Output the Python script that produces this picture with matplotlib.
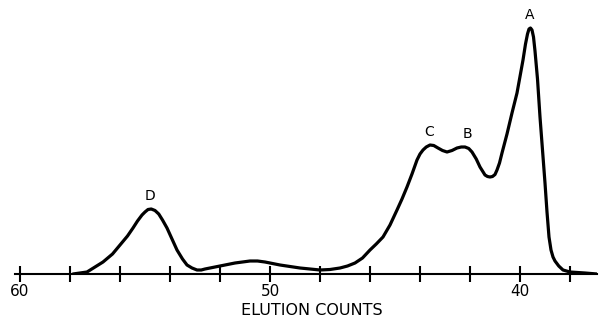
import numpy as np
import matplotlib
matplotlib.use('Agg')
import matplotlib.pyplot as plt

# elution profile (detector response in arbitrary units)
elution = [57.88, 57.32, 56.68, 56.3, 56.0, 55.7, 55.48, 55.3, 55.12, 55.0,
           54.88, 54.75, 54.6, 54.45, 54.3, 54.12, 53.92, 53.72, 53.5, 53.32,
           53.12, 52.92, 52.75, 52.6, 52.3, 52.0, 51.4, 50.8, 50.5, 50.2,
           49.6, 48.8, 48.0, 47.6, 47.2, 46.9, 46.6, 46.3, 46.0, 45.75,
           45.48, 45.2, 44.92, 44.72, 44.52, 44.32, 44.12, 44.0, 43.88, 43.75,
           43.6, 43.45, 43.28, 43.1, 42.92, 42.72, 42.52, 42.35, 42.2, 42.05,
           41.92, 41.75, 41.6, 41.4, 41.3, 41.2, 41.1, 41.0, 40.92, 40.82,
           40.72, 40.52, 40.32, 40.12, 39.88, 39.78, 39.7, 39.64, 39.58, 39.52,
           39.46, 39.4, 39.3, 39.2, 39.1, 39.0, 38.92, 38.84, 38.76, 38.68,
           38.6, 38.45, 38.28, 38.0, 37.4, 36.92]
response = [0, 2, 12, 20, 29, 38, 46, 53, 59, 62,
            64.5, 65, 63.5, 60, 54, 46, 35, 24, 15, 9,
            6, 4, 4, 5, 6.5, 8, 11, 13, 13, 12,
            9, 6, 4, 4.5, 6, 8, 11, 16, 24, 30,
            37, 49, 64, 75, 87, 100, 114, 120, 124, 127,
            129, 128.5, 126, 123.5, 122, 123.5, 126, 127, 127, 125.5,
            122, 115, 107, 99, 97.5, 97, 97.5, 99.5, 104, 111,
            121, 140, 161, 181, 214, 230, 240, 245, 246, 244,
            237, 223, 195, 157, 124, 91, 62, 37, 24, 17,
            13, 8, 4, 2, 1, 0]

peak_names = ['A', 'B', 'C', 'D']
peak_pos = [39.6, 42.12, 43.64, 54.82]
peak_height = [246, 127, 129, 65]

tick_vals = np.arange(38, 61, 2)
tick_labels = ['' if v not in (40, 50, 60) else str(v) for v in tick_vals]

fig = plt.figure(figsize=(5.99, 3.23), dpi=100)
ax = fig.add_axes([15 / 599, 49 / 323, 582 / 599, 264 / 323])

ax.plot(elution, response, color='black', linewidth=2.3,
        solid_capstyle='round', solid_joinstyle='round')

for name, x, h in zip(peak_names, peak_pos, peak_height):
    ax.text(x, h + 6, name, ha='center', va='bottom', fontsize=10)

ax.set_xlim(60.2, 36.92)
ax.set_ylim(0, 264)

for s in ['top', 'right', 'left']:
    ax.spines[s].set_visible(False)
ax.spines['bottom'].set_linewidth(1.5)

ax.set_yticks([])
ax.set_xticks(tick_vals)
ax.set_xticklabels(tick_labels, fontsize=11)
ax.tick_params(axis='x', direction='inout', length=11, width=1.5, pad=2)

fig.text(312 / 599, 5 / 323, 'ELUTION COUNTS', ha='center', va='bottom',
         fontsize=11.5)

fig.savefig('out.png', dpi=100)
